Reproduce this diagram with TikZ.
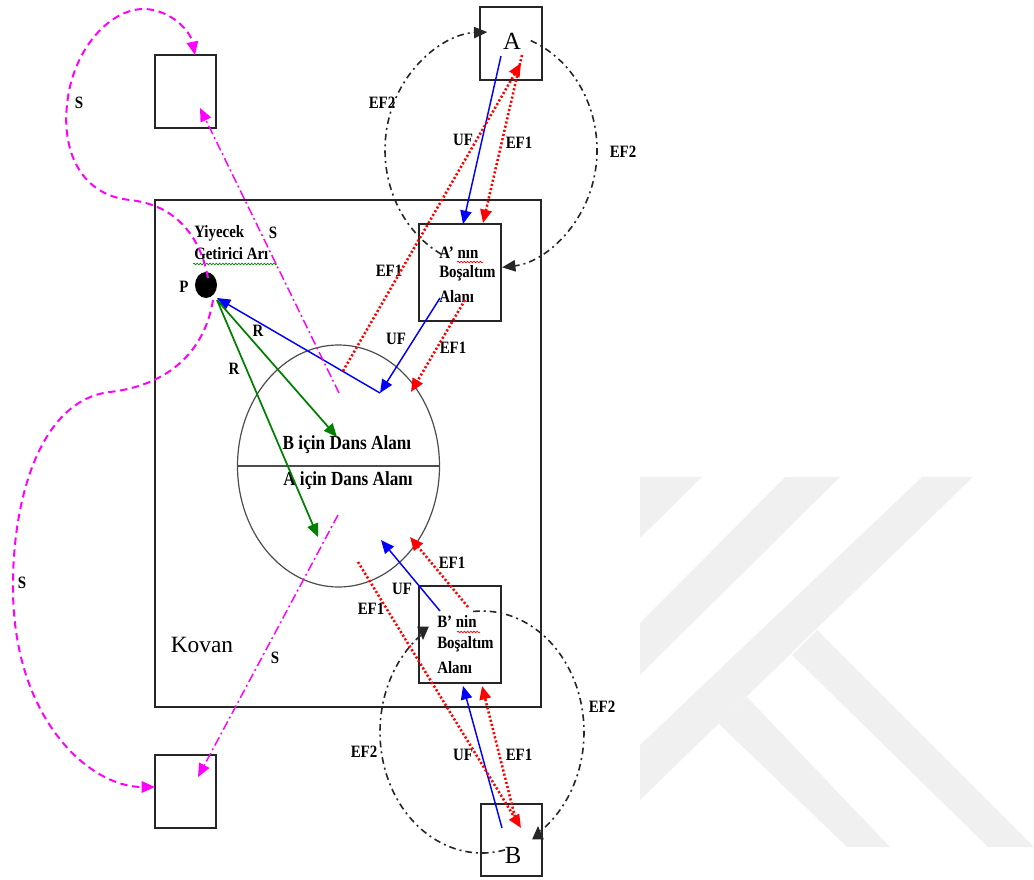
\documentclass[tikz,border=0pt]{standalone}
\usepackage{fontspec}
\setmainfont{Liberation Serif}
\newfontfamily\lblfont{Liberation Serif}[FakeStretch=0.86]
\usetikzlibrary{arrows.meta,shapes.geometric,decorations.pathmorphing,calc}
\definecolor{wgreen}{RGB}{0,128,0}
\definecolor{wmagenta}{RGB}{255,0,255}
\definecolor{wblue}{RGB}{0,0,255}
\definecolor{wred}{RGB}{255,0,0}
\definecolor{wmark}{RGB}{240,240,240}
\begin{document}
\begin{tikzpicture}[x=0.75pt,y=-0.75pt,
  box/.style={draw=black!85, line width=1.1pt, inner sep=0pt},
  lbl/.style={font=\lblfont\bfseries\fontsize{13}{14}\selectfont, inner sep=0pt},
  boxtxt/.style={font=\lblfont\bfseries\fontsize{13}{14}\selectfont, inner sep=0pt, anchor=west},
  tip/.style={-{Triangle[length=10pt,width=8.5pt]}},
  ufarrow/.style={tip, draw=wblue, line width=1.1pt},
  efone/.style={tip, draw=wred, line width=1.9pt, dash pattern=on 1.6pt off 1.6pt},
  rarrow/.style={tip, draw=wgreen, line width=1.3pt},
  sdash/.style={tip, draw=wmagenta, line width=1.5pt, dash pattern=on 5.5pt off 3.5pt},
  sdot/.style={tip, draw=wmagenta, line width=1.1pt, dash pattern=on 7pt off 2.5pt on 1.5pt off 2.5pt},
  eftwo/.style={draw=black!85, line width=1.2pt, dash pattern=on 5pt off 3pt on 1.5pt off 3pt},
  squig/.style={decorate, decoration={snake, amplitude=0.6pt, segment length=2.4pt}, line width=0.5pt}
]
\useasboundingbox (0,0) rectangle (1034,880);
% watermark
\fill[wmark] (640,477) -- (702,477) -- (640,538) -- cycle;
\fill[wmark] (785,477) -- (840,477) -- (640,675) -- (640,623) -- cycle;
\fill[wmark] (922,477) -- (973,477) -- (640,800) -- (640,745) -- cycle;
\fill[wmark] (718,723) -- (747,697) -- (890,847) -- (847,847) -- cycle;
\fill[wmark] (792,655) -- (817,630) -- (1034,847) -- (988,847) -- cycle;

% boxes
\node[box, minimum width=45.75pt, minimum height=54.75pt] (TL) at (185.5,91.5) {};
\node[box, minimum width=45.75pt, minimum height=54.75pt] (BL) at (185.5,791.5) {};
\node[box, minimum width=289.5pt, minimum height=380.25pt] (hive) at (348,453.5) {};
\node[box, minimum width=46.5pt, minimum height=54.75pt] (A) at (511,43.5) {};
\node[box, minimum width=45.75pt, minimum height=54pt] (B) at (511.5,840) {};
\node[box, minimum width=61.5pt, minimum height=72.75pt] (Ap) at (460,272.5) {};
\node[box, minimum width=61.5pt, minimum height=72.75pt] (Bp) at (460,634.5) {};
\node[draw=black!70, line width=0.9pt, ellipse, minimum width=151.5pt, minimum height=181.5pt, inner sep=0pt] (dance) at (338.5,466) {};
\draw[black!70, line width=0.9pt] (dance.west) -- (dance.east);
\node[ellipse, fill=black, minimum width=16.5pt, minimum height=19.5pt, inner sep=0pt] (P) at (206,285) {};

% texts
\node[font=\fontsize{18.5}{20}\selectfont, inner sep=0pt] (tA) at (512,41) {A};
\node[font=\fontsize{18.5}{20}\selectfont, inner sep=0pt] (tB) at (513,855) {B};
\node[font=\fontsize{17.5}{20}\selectfont, inner sep=0pt] (tkovan) at (202,645) {Kovan};
\node[font=\lblfont\bfseries\fontsize{15}{16}\selectfont, inner sep=0pt] (tdB) at (347,445) {B için Dans Alanı};
\node[font=\lblfont\bfseries\fontsize{15}{16}\selectfont, inner sep=0pt] (tdA) at (348,481) {A için Dans Alanı};
\node[boxtxt] (ta1) at (439,253) {A’ nın};
\node[boxtxt] (ta2) at (439,273) {Boşaltım};
\node[boxtxt] (ta3) at (439,297) {Alanı};
\node[boxtxt] (tb1) at (437,622) {B’ nin};
\node[boxtxt] (tb2) at (437,644) {Boşaltım};
\node[boxtxt] (tb3) at (437,668) {Alanı};
\node[boxtxt] (ty1) at (194,233) {Yiyecek};
\node[boxtxt] (ty2) at (194,254) {Getirici Arı};
\node[lbl] (tP) at (184,287) {P};
\node[lbl] (s1) at (79,103) {S};
\node[lbl] (s2) at (22,583) {S};
\node[lbl] (s3) at (275,658) {S};
\node[lbl] (s4) at (273,233) {S};
\node[lbl] (l1) at (382,103) {EF2};
\node[lbl] (l2) at (623,152) {EF2};
\node[lbl] (l3) at (463,140) {UF};
\node[lbl] (l4) at (519,143) {EF1};
\node[lbl] (l5) at (389,271) {EF1};
\node[lbl] (l6) at (396,339) {UF};
\node[lbl] (l7) at (453,348) {EF1};
\node[lbl] (l8) at (258,331) {R};
\node[lbl] (l9) at (234,369) {R};
\node[lbl] (l10) at (452,563) {EF1};
\node[lbl] (l11) at (402,589) {UF};
\node[lbl] (l12) at (371,609) {EF1};
\node[lbl] (l13) at (602,707) {EF2};
\node[lbl] (l14) at (364,752) {EF2};
\node[lbl] (l15) at (463,755) {UF};
\node[lbl] (l16) at (519,755) {EF1};

% spell-check squiggles
\draw[squig, wgreen] (193,264) -- (277,264);
\draw[squig, wred] (457,262) -- (483,262);
\draw[squig, wred] (457,632) -- (480,632);

% coordinates
\coordinate (ufa1) at (501,56);  \coordinate (ufa2) at (463,224);
\coordinate (ufb1) at (440,298); \coordinate (mA) at (380,393);
\coordinate (pR) at (217,298);
\coordinate (ufc1) at (502,828); \coordinate (ufc2) at (463,686);
\coordinate (ufd1) at (440,611); \coordinate (mB) at (381,540);
\coordinate (ea1) at (343,371);  \coordinate (ea2) at (521,63);
\coordinate (eb1) at (522,55);   \coordinate (eb2) at (483,223);
\coordinate (ec1) at (465,300);  \coordinate (ec2) at (411,392);
\coordinate (ed1) at (468,607);  \coordinate (ed2) at (410,537);
\coordinate (ee1) at (515,817);  \coordinate (ee2) at (482,686);
\coordinate (ef1) at (358,562);  \coordinate (ef2) at (521,828);
\coordinate (pG) at (217,300);
\coordinate (gB) at (337,437);   \coordinate (gA) at (318,537);
\coordinate (sd1) at (339,393);  \coordinate (sd1e) at (200,108);
\coordinate (sd2) at (338,515);  \coordinate (sd2e) at (198,777);
\coordinate (ctop) at (491,150); \coordinate (cbot) at (482,732);
\coordinate (pTop) at (208,278); \coordinate (pBot) at (213,300);
\coordinate (tlIn) at (195,55);  \coordinate (blIn) at (155,787);

% EF2 loops
\draw[eftwo, tip] (ctop) ++(118:106 and 118) arc[start angle=118, end angle=268, x radius=106, y radius=118];
\draw[eftwo, tip] (ctop) ++(-68:106 and 118) arc[start angle=-68, end angle=84, x radius=106, y radius=118];
\draw[eftwo] (cbot) ++(-95:102 and 121) arc[start angle=-95, end angle=55, x radius=102, y radius=121];
\draw[eftwo] (cbot) ++(77:102 and 121) arc[start angle=77, end angle=235, x radius=102, y radius=121];
\draw[tip, black!85, line width=1pt] (538,839) -- (538,826);
\draw[tip, black!85, line width=1pt] (423,627) -- (423,640);

% UF
\draw[ufarrow] (ufa1) -- (ufa2);
\draw[ufarrow] (ufb1) -- (mA);
\draw[ufarrow] (mA) -- (pR);
\draw[ufarrow] (ufc1) -- (ufc2);
\draw[ufarrow] (ufd1) -- (mB);

% EF1
\draw[efone] (ea1) -- (ea2);
\draw[efone] (eb1) -- (eb2);
\draw[efone] (ec1) -- (ec2);
\draw[efone] (ed1) -- (ed2);
\draw[efone] (ee1) -- (ee2);
\draw[efone] (ef1) -- (ef2);

% R
\draw[rarrow] (pG) -- (gB);
\draw[rarrow] (pG) -- (gA);

% S
\draw[sdot] (sd1) -- (sd1e);
\draw[sdot] (sd2) -- (sd2e);
\draw[sdash] (pTop) .. controls (200,235) and (175,205) .. (130,200)
  .. controls (80,195) and (62,150) .. (67,105)
  .. controls (72,50) and (110,8) .. (145,9)
  .. controls (170,10) and (190,30) .. (tlIn);
\draw[sdash] (pBot) .. controls (205,350) and (170,385) .. (110,392)
  .. controls (40,400) and (12,500) .. (13,590)
  .. controls (14,720) and (90,787) .. (blIn);
\end{tikzpicture}
\end{document}
